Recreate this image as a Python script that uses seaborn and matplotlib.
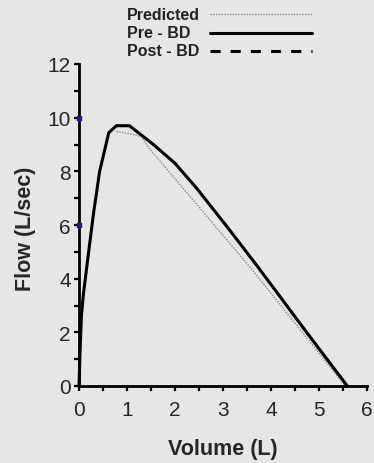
import matplotlib
matplotlib.use("Agg")
import matplotlib.pyplot as plt
from matplotlib.lines import Line2D
from matplotlib.ticker import MultipleLocator
import seaborn as sns

# Datos (Volumen L, Flujo L/sec)
pre_bd_vol = [0, 0.02, 0.05, 0.09, 0.18, 0.30, 0.43, 0.62, 0.78, 1.05, 1.55, 2.0, 2.46, 3.1, 3.73, 4.7, 5.59]
pre_bd_flow = [0, 1.2, 2.6, 3.4, 4.7, 6.4, 8.0, 9.44, 9.7, 9.7, 9.0, 8.3, 7.35, 5.9, 4.43, 2.1, 0]
pred_vol = [0.78, 1.05, 1.29, 1.47, 2.5, 3.59, 5.55]
pred_flow = [9.49, 9.4, 9.3, 8.84, 6.67, 4.37, 0]
post_bd_vol = []
post_bd_flow = []
marca_flow = [10, 6]
marca_vol = [0, 0]
series = ["Predicted", "Pre - BD", "Post - BD"]

bg = "#e6e6e6"
sns.set_theme(style="ticks")
plt.rcParams["font.family"] = ["Liberation Sans", "DejaVu Sans"]

W, H = 374, 464
fig = plt.figure(figsize=(W / 100, H / 100), dpi=100, facecolor=bg)
ax = fig.add_axes([79 / W, 1 - 387 / H, 288 / W, 322 / H], facecolor=bg)

# Estilos de cada serie
estilo_pred = dict(color="#888888", lw=1.0, linestyle=(0, (1, 1)))
estilo_pre = dict(color="black", lw=2.2, linestyle="-")
estilo_post = dict(color="black", lw=2.2, linestyle=(0, (3.3, 3.3)))

# Curvas
sns.lineplot(x=pred_vol, y=pred_flow, ax=ax, sort=False, estimator=None, **estilo_pred)
sns.lineplot(x=pre_bd_vol, y=pre_bd_flow, ax=ax, sort=False, estimator=None,
             clip_on=False, **estilo_pre)
if post_bd_vol:
    sns.lineplot(x=post_bd_vol, y=post_bd_flow, ax=ax, sort=False, estimator=None, **estilo_post)
ax.scatter(marca_vol, marca_flow, s=6, color="#1a1aa0", marker="s", zorder=5, clip_on=False)

# Ejes
ax.set_xlim(0, 6)
ax.set_ylim(0, 12)
ax.xaxis.set_major_locator(MultipleLocator(1))
ax.xaxis.set_minor_locator(MultipleLocator(0.5))
ax.yaxis.set_major_locator(MultipleLocator(2))
ax.yaxis.set_minor_locator(MultipleLocator(1))
ax.tick_params(which="both", direction="out", length=3.8, width=1.6, color="black")
ax.tick_params(axis="y", which="major", labelsize=15, pad=2)
ax.tick_params(axis="x", which="major", labelsize=15, pad=6)
for s in ["top", "right"]:
    ax.spines[s].set_visible(False)
for s in ["left", "bottom"]:
    ax.spines[s].set_linewidth(2.0)
    ax.spines[s].set_color("black")
ax.set_xlabel("Volume (L)", fontsize=15.5, fontweight="bold")
ax.set_ylabel("Flow (L/sec)", fontsize=15.5, fontweight="bold")
ax.xaxis.set_label_coords(0.5, -0.16)
ax.yaxis.set_label_coords(-0.15, 0.49)

# Leyenda (texto a la izquierda, linea a la derecha)
filas_y = [15, 33.5, 52]
for nombre, estilo, fy in zip(series, [estilo_pred, estilo_pre, estilo_post], filas_y):
    fig.text(127 / W, 1 - fy / H, nombre, ha="left", va="center",
             fontsize=11.5, fontweight="bold", color="#222222")
    fig.add_artist(Line2D([210 / W, 312 / W], [1 - fy / H, 1 - fy / H],
                          transform=fig.transFigure, **estilo))

fig.savefig("out.png", dpi=100, facecolor=bg)
